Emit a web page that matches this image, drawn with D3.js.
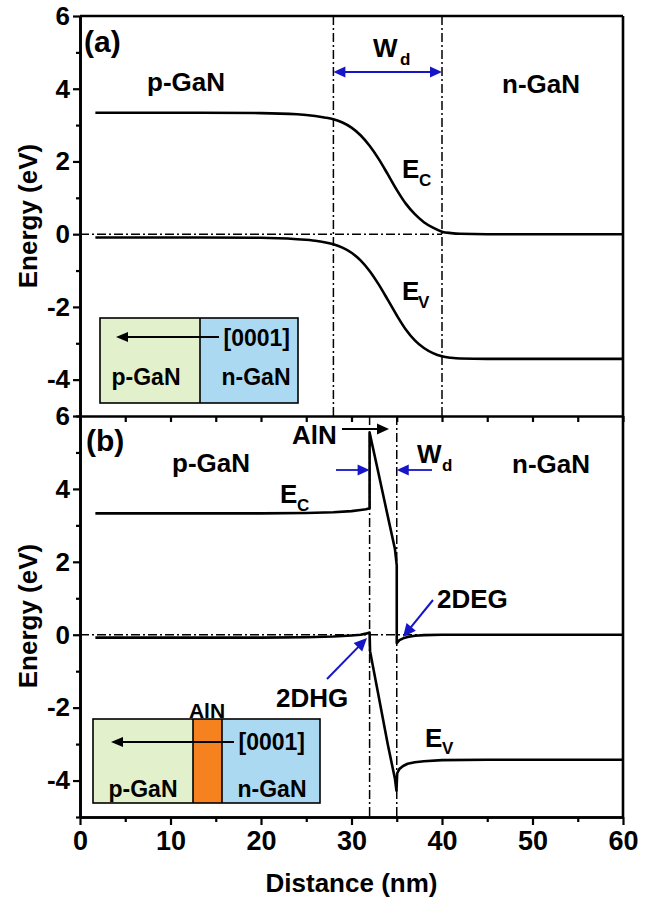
<!DOCTYPE html>
<html><head><meta charset="utf-8">
<script src="https://cdn.jsdelivr.net/npm/d3@7"></script>
<style>
body{margin:0;background:#fff}
text{font-family:"Liberation Sans",Arial,sans-serif;font-weight:bold;fill:#000}
</style>
</head><body><svg id="c" width="658" height="901"></svg>
<script>
// ---- data ----
const distA = [1.7, 10, 20, 24, 26, 27, 28, 29, 30, 31, 32, 33, 34, 35, 36, 37, 38, 39, 40, 41, 42, 45, 50, 60];
const ecA   = [3.34, 3.34, 3.33, 3.30, 3.25, 3.21, 3.16, 3.07, 2.93, 2.72, 2.43, 2.07, 1.65, 1.22, 0.84, 0.55, 0.33, 0.18, 0.07, 0.03, 0.01, 0.0, 0.0, 0.0];
const evA   = [-0.09, -0.09, -0.10, -0.14, -0.18, -0.22, -0.28, -0.37, -0.51, -0.72, -1.01, -1.38, -1.80, -2.23, -2.62, -2.92, -3.13, -3.27, -3.36, -3.40, -3.42, -3.43, -3.43, -3.43];

const distBc = [1.7, 10, 20, 25, 28, 30, 31, 31.6, 32.0, 32.0, 33, 34, 34.8, 35.0, 35.0, 35.3, 35.7, 36.2, 37, 38, 40, 45, 60];
const ecB    = [3.33, 3.33, 3.33, 3.34, 3.36, 3.39, 3.42, 3.44, 3.47, 5.55, 4.41, 3.26, 2.35, 1.9, -0.23, -0.15, -0.10, -0.06, -0.03, -0.01, 0.0, 0.0, 0.0];
const distBv = [1.7, 10, 20, 25, 28, 30, 31, 31.6, 32.0, 32.05, 33, 34, 34.8, 34.97, 35.05, 35.3, 35.7, 36.2, 37, 38, 40, 45, 60];
const evB    = [-0.08, -0.08, -0.08, -0.07, -0.05, -0.02, 0.0, 0.03, 0.06, -0.45, -1.69, -3.0, -3.95, -4.28, -3.8, -3.68, -3.6, -3.54, -3.5, -3.47, -3.44, -3.43, -3.43];

const xTicks = [0, 10, 20, 30, 40, 50, 60];
const xMinor = [5, 15, 25, 35, 45, 55];
const yTicks = [-4, -2, 0, 2, 4, 6];
const yMinor = [-5, -3, -1, 1, 3, 5];
const boundsA = [28, 40];
const boundsB = [32, 35];
const fermiEnd = 40;

// ---- scales ----
const svg = d3.select("#c");
const x  = d3.scaleLinear().domain([0, 60]).range([80, 623]);
const yA = d3.scaleLinear().domain([-5, 6]).range([416, 16]);
const yB = d3.scaleLinear().domain([-5, 6]).range([817, 416]);

const BLUE = "#1616c8";
const DASH = "9,3,2,3";

function arrowHead(g, tx, ty, angle, len, half, color) {
  // tip at (tx,ty); angle = direction of travel (radians)
  const c = Math.cos(angle), s = Math.sin(angle);
  const bx = tx - c * len, by = ty - s * len;
  const p = [[tx, ty], [bx - s * half, by + c * half], [bx + s * half, by - c * half]];
  g.append("path").attr("d", "M" + p.map(d => d.join(",")).join("L") + "Z").attr("fill", color);
}
function arrow(g, x1, y1, x2, y2, color, w, len, half) {
  const a = Math.atan2(y2 - y1, x2 - x1);
  g.append("line").attr("x1", x1).attr("y1", y1)
    .attr("x2", x2 - Math.cos(a) * len * 0.6).attr("y2", y2 - Math.sin(a) * len * 0.6)
    .attr("stroke", color).attr("stroke-width", w);
  arrowHead(g, x2, y2, a, len, half, color);
}
function txt(g, str, tx, ty, size, anchor) {
  return g.append("text").attr("x", tx).attr("y", ty).attr("font-size", size + "px")
    .attr("text-anchor", anchor || "start").text(str);
}

// ---- insets ----
const ins = svg.append("g");
// panel a inset
ins.append("rect").attr("x", 100).attr("y", 318).attr("width", 100).attr("height", 85).attr("fill", "#e2f0cb");
ins.append("rect").attr("x", 200).attr("y", 318).attr("width", 98).attr("height", 85).attr("fill", "#acd9f2");
ins.append("rect").attr("x", 100).attr("y", 318).attr("width", 198).attr("height", 85).attr("fill", "none").attr("stroke", "#000").attr("stroke-width", 1.6);
ins.append("line").attr("x1", 200).attr("x2", 200).attr("y1", 318).attr("y2", 403).attr("stroke", "#000").attr("stroke-width", 1.6);
arrow(ins, 219, 337, 116, 337, "#000", 2, 12, 5);
txt(ins, "[0001]", 290, 346, 23, "end");
txt(ins, "p-GaN", 146, 385, 23, "middle");
txt(ins, "n-GaN", 256, 385, 23, "middle");
// panel b inset
ins.append("rect").attr("x", 93).attr("y", 719).attr("width", 100).attr("height", 84).attr("fill", "#e2f0cb");
ins.append("rect").attr("x", 193).attr("y", 719).attr("width", 29).attr("height", 84).attr("fill", "#f5811f");
ins.append("rect").attr("x", 222).attr("y", 719).attr("width", 98).attr("height", 84).attr("fill", "#acd9f2");
ins.append("rect").attr("x", 93).attr("y", 719).attr("width", 227).attr("height", 84).attr("fill", "none").attr("stroke", "#000").attr("stroke-width", 1.6);
[193, 222].forEach(v => ins.append("line").attr("x1", v).attr("x2", v).attr("y1", 719).attr("y2", 803).attr("stroke", "#000").attr("stroke-width", 1.6));
arrow(ins, 234, 742, 111, 742, "#000", 2, 12, 5);
txt(ins, "[0001]", 305, 750, 23, "end");
txt(ins, "p-GaN", 143, 797, 23, "middle");
txt(ins, "n-GaN", 272, 797, 23, "middle");
txt(ins, "AlN", 207, 718, 21, "middle");

// ---- dash-dot guide lines ----
const guides = svg.append("g").attr("stroke", "#000").attr("stroke-width", 1.5).attr("stroke-dasharray", DASH).attr("fill", "none");
boundsA.forEach(b => guides.append("line").attr("x1", x(b)).attr("x2", x(b)).attr("y1", yA(6)).attr("y2", yA(-5)));
boundsB.forEach(b => guides.append("line").attr("x1", x(b)).attr("x2", x(b)).attr("y1", yB(6)).attr("y2", yB(-5)));
guides.append("line").attr("x1", x(0)).attr("x2", x(fermiEnd)).attr("y1", yA(0)).attr("y2", yA(0));
guides.append("line").attr("x1", x(0)).attr("x2", x(fermiEnd)).attr("y1", yB(0)).attr("y2", yB(0));

// ---- curves ----
const curves = svg.append("g").attr("fill", "none").attr("stroke", "#000").attr("stroke-width", 2.6).attr("stroke-linejoin", "round");
function drawLine(xs, ys, yS, curve) {
  const pts = xs.map((d, i) => [d, ys[i]]);
  curves.append("path").datum(pts)
    .attr("d", d3.line().x(d => x(d[0])).y(d => yS(d[1])).curve(curve || d3.curveLinear));
}
drawLine(distA, ecA, yA, d3.curveMonotoneX);
drawLine(distA, evA, yA, d3.curveMonotoneX);
drawLine(distBc, ecB, yB);
drawLine(distBv, evB, yB);

// ---- axes ----
function styleAxis(g, fs) {
  g.select(".domain").attr("stroke-width", 2.6);
  g.selectAll(".tick line").attr("stroke-width", 2.2);
  g.selectAll("text").attr("font-size", fs + "px").style("font-family", '"Liberation Sans",Arial,sans-serif').style("font-weight", "bold").attr("fill", "#000");
}
[yA, yB].forEach(y => {
  const g = svg.append("g").attr("transform", `translate(${x(0)},0)`)
    .call(d3.axisLeft(y).tickValues(yTicks).tickSize(7).tickSizeOuter(0).tickPadding(3).tickFormat(d => String(d)));
  styleAxis(g, 26);
  const gm = svg.append("g").attr("transform", `translate(${x(0)},0)`)
    .call(d3.axisLeft(y).tickValues(yMinor).tickSize(4).tickSizeOuter(0).tickFormat(""));
  styleAxis(gm, 26);
});
// top panel bottom axis (shared line, no labels)
{
  const g = svg.append("g").attr("transform", `translate(0,${yA(-5)})`)
    .call(d3.axisBottom(x).tickValues(xTicks.concat(xMinor)).tickSize(6).tickSizeOuter(0).tickFormat(""));
  styleAxis(g, 26);
}
// bottom panel x axis
{
  const g = svg.append("g").attr("transform", `translate(0,${yB(-5)})`)
    .call(d3.axisBottom(x).tickValues(xTicks).tickSize(8).tickSizeOuter(0).tickPadding(6).tickFormat(d => String(d)));
  styleAxis(g, 27);
  const gm = svg.append("g").attr("transform", `translate(0,${yB(-5)})`)
    .call(d3.axisBottom(x).tickValues(xMinor).tickSize(5).tickSizeOuter(0).tickFormat(""));
  styleAxis(gm, 27);
}
// frame: top & right
svg.append("line").attr("x1", x(0)).attr("x2", x(60)).attr("y1", yA(6)).attr("y2", yA(6)).attr("stroke", "#000").attr("stroke-width", 2.6);
svg.append("line").attr("x1", x(60)).attr("x2", x(60)).attr("y1", yA(6)).attr("y2", yB(-5)).attr("stroke", "#000").attr("stroke-width", 2.6);

// ---- axis titles ----
txt(svg, "Distance (nm)", (x(0) + x(60)) / 2, 892, 26, "middle");
[[yA, 216], [yB, 616]].forEach(([y, cy]) => {
  svg.append("text").attr("transform", `translate(37,${cy}) rotate(-90)`).attr("text-anchor", "middle")
    .attr("font-size", "26px").text("Energy (eV)");
});

// ---- annotations panel a ----
const an = svg.append("g");
txt(an, "(a)", 84, 52, 30);
txt(an, "p-GaN", 147, 91, 26);
txt(an, "n-GaN", 502, 93, 26);
txt(an, "W", 373, 57, 26);
txt(an, "d", 400, 65, 17);
{
  const ay = 72;
  an.append("line").attr("x1", x(boundsA[0]) + 8).attr("x2", x(boundsA[1]) - 8).attr("y1", ay).attr("y2", ay).attr("stroke", BLUE).attr("stroke-width", 2.2);
  arrowHead(an, x(boundsA[0]), ay, Math.PI, 12, 5.5, BLUE);
  arrowHead(an, x(boundsA[1]), ay, 0, 12, 5.5, BLUE);
}
txt(an, "E", 402, 178, 26); txt(an, "C", 419, 186, 17);
txt(an, "E", 402, 300, 26); txt(an, "V", 418, 308, 17);

// ---- annotations panel b ----
txt(an, "(b)", 86, 451, 30);
txt(an, "p-GaN", 172, 472, 26);
txt(an, "n-GaN", 512, 473, 26);
txt(an, "E", 280, 503, 26); txt(an, "C", 297, 511, 17);
txt(an, "AlN", 292, 444, 26);
arrow(an, 342, 429, 389, 429, "#000", 2.2, 12, 5.5);
arrow(an, 336, 470, x(boundsB[0]), 470, BLUE, 1.8, 12, 5.5);
arrow(an, 432, 470, x(boundsB[1]), 470, BLUE, 1.8, 12, 5.5);
txt(an, "W", 417, 463, 26); txt(an, "d", 442, 471, 17);
txt(an, "2DEG", 437, 608, 26);
arrow(an, 433, 600, 403, 637, BLUE, 2, 13, 6);
txt(an, "2DHG", 276, 707, 26);
arrow(an, 327, 679, 367, 638, BLUE, 2, 13, 6);
txt(an, "E", 425, 747, 26); txt(an, "V", 442, 754, 17);
</script></body></html>
